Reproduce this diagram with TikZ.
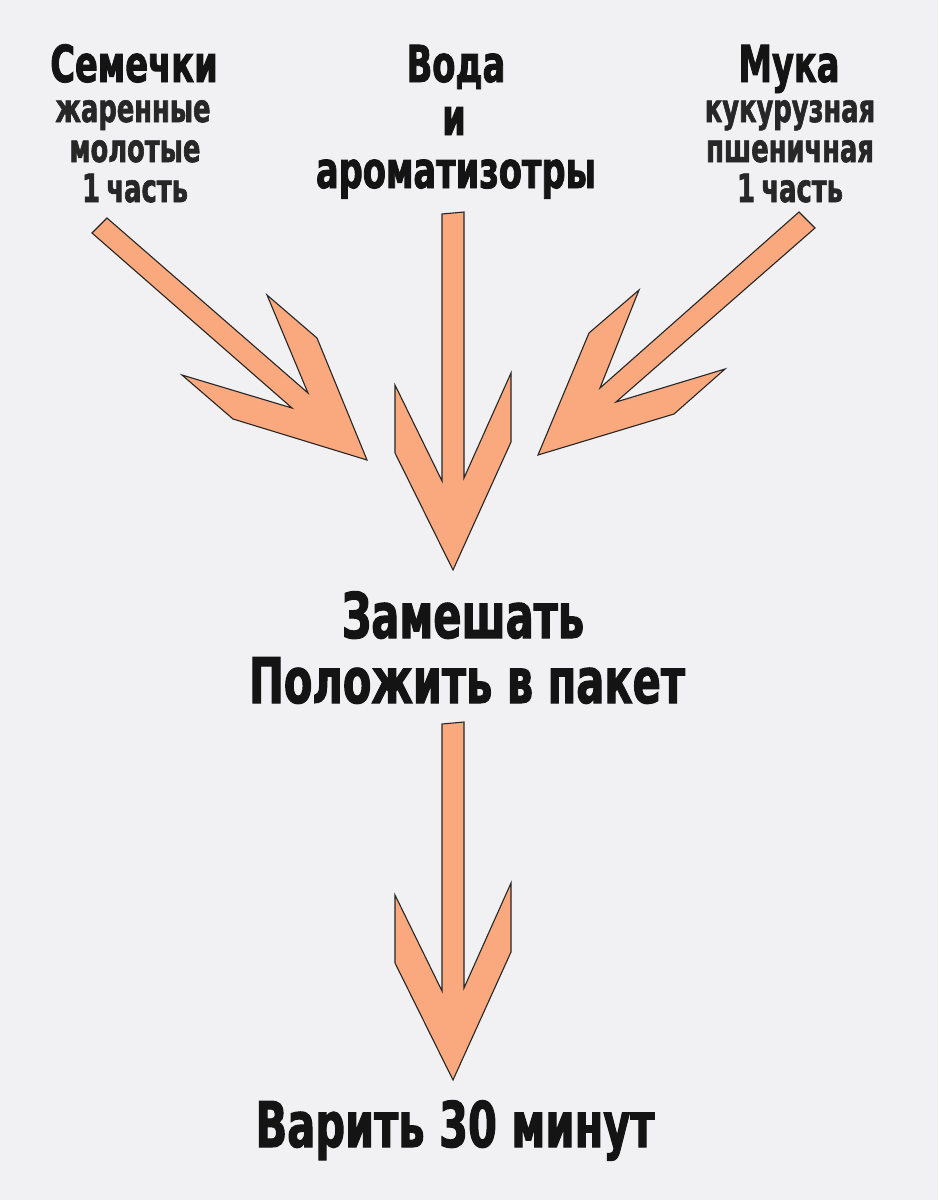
\documentclass[tikz,border=0pt]{standalone}
\usepackage{fontspec}
\newfontfamily\hfont{DejaVu Sans}[FakeStretch=0.66,FakeBold=1.6]
\definecolor{bg}{RGB}{241,241,243}
\definecolor{arr}{RGB}{250,168,126}
\definecolor{ink}{RGB}{20,20,20}
\tikzset{
  bigarrow/.style={fill=arr, draw=black!85, line width=1.1pt, line join=miter},
  head/.style={font=\hfont\bfseries\fontsize{51}{51}\selectfont, text=ink, anchor=base, inner sep=0pt},
  sub/.style={font=\hfont\bfseries\fontsize{39}{39}\selectfont, text=ink!92, anchor=base, inner sep=0pt},
  big/.style={font=\hfont\bfseries\fontsize{63}{63}\selectfont, text=ink, anchor=base, inner sep=0pt}
}
\begin{document}
\begin{tikzpicture}[x=1pt,y=-1pt]
\useasboundingbox[fill=bg] (0,0) rectangle (938,1200);

% left column
\node[head] (sem) at (134,82) {Семечки};
\node[sub] (sem1) at (133,122) {жаренные};
\node[sub] (sem2) at (135,162) {молотые};
\node[sub] (sem3) at (135,202) {1\,часть};

% middle column
\node[head] (voda) at (456,82) {Вода};
\node[head] (i) at (454,135) {и};
\node[head] (arom) at (456,188) {ароматизотры};

% right column
\node[head] (muka) at (789,82) {Мука};
\node[sub] (muka1) at (790,122) {кукурузная};
\node[sub] (muka2) at (790,162) {пшеничная};
\node[sub] (muka3) at (790,202) {1\,часть};

% center texts
\node[big] (mix) at (463,638) {Замешать};
\node[big] (bag) at (467,703) {Положить в пакет};
\node[big] (boil) at (455,1147) {Варить 30 минут};

% arrows
\draw[bigarrow] (107,218) -- (308,393) -- (267,295) -- (317,338) -- (367,460)
  -- (233,419) -- (182,375) -- (292,408) -- (92,233) -- cycle;
\draw[bigarrow] (442,214) -- (464,212) -- (464,478) -- (511,373) -- (511,442)
  -- (453,570) -- (395,453) -- (395,385) -- (442,481) -- cycle;
\draw[bigarrow] (799,212) -- (815,228) -- (616,402) -- (725,369) -- (674,414)
  -- (538,455) -- (589,333) -- (639,290) -- (600,388) -- cycle;
\draw[bigarrow] (442,724) -- (464,722) -- (464,988) -- (511,883) -- (511,952)
  -- (453,1080) -- (395,963) -- (395,895) -- (442,991) -- cycle;
\end{tikzpicture}
\end{document}
